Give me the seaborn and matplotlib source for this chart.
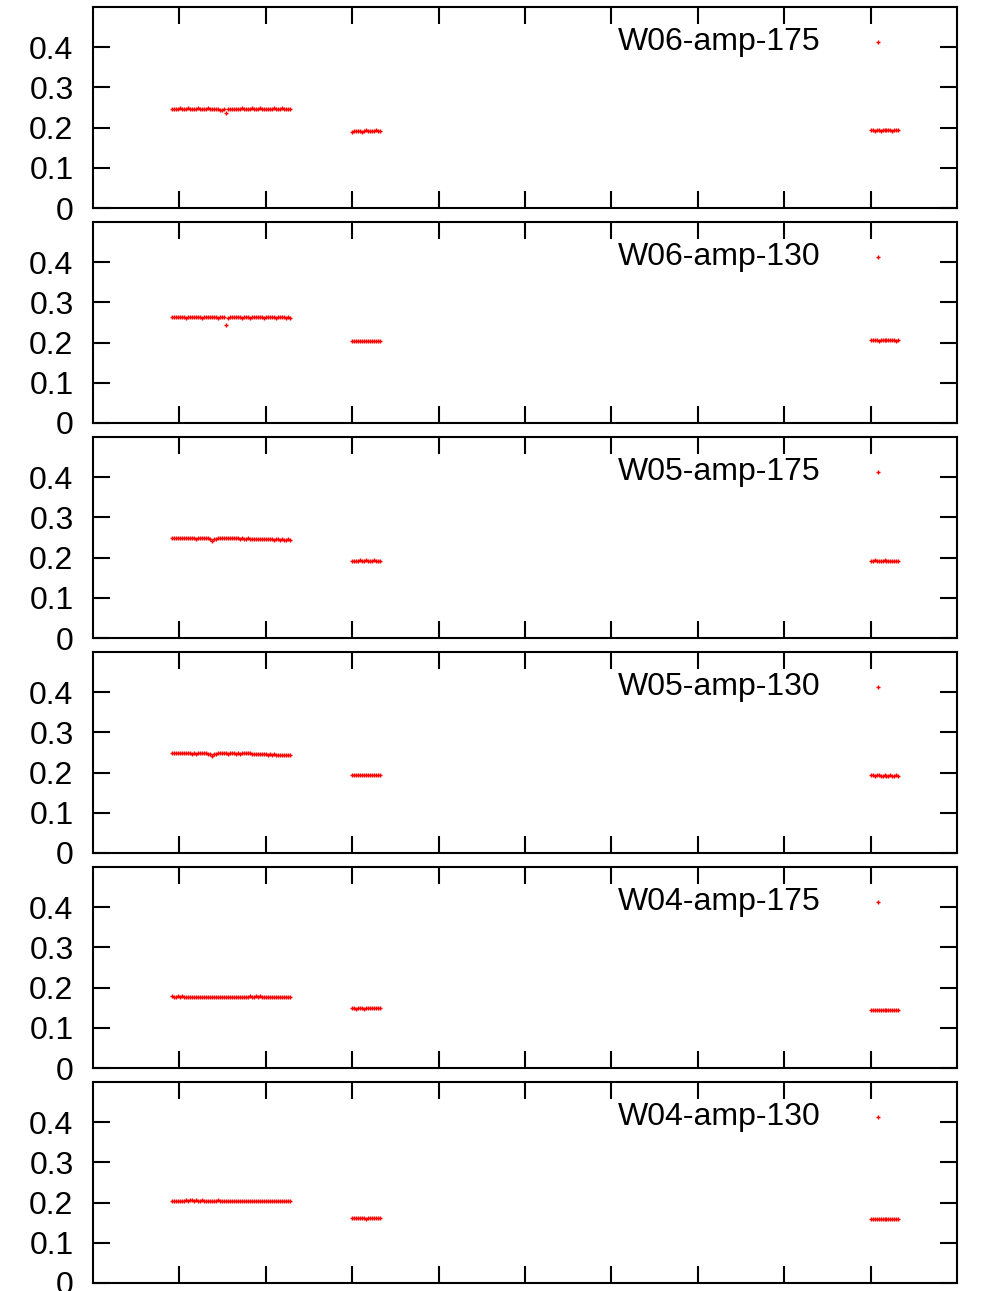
import matplotlib
matplotlib.use("Agg")
import matplotlib.pyplot as plt
import seaborn as sns

# sample positions (three runs of measurements)
x_run1 = [0.920, 0.943, 0.966, 0.989, 1.012, 1.035, 1.058, 1.081, 1.104, 1.127,
          1.150, 1.173, 1.196, 1.219, 1.242, 1.265, 1.288, 1.311, 1.334, 1.357,
          1.380, 1.403, 1.426, 1.449, 1.472, 1.495, 1.518, 1.541, 1.564, 1.587,
          1.610, 1.633, 1.656, 1.679, 1.702, 1.725, 1.748, 1.771, 1.794, 1.817,
          1.840, 1.863, 1.886, 1.909, 1.932, 1.955, 1.978, 2.001, 2.024, 2.047,
          2.070, 2.093, 2.116, 2.139, 2.162, 2.185, 2.208, 2.231, 2.254, 2.277]
x_run2 = [3.000, 3.023, 3.046, 3.069, 3.092, 3.115, 3.138, 3.161, 3.184, 3.207,
          3.230, 3.253, 3.276, 3.299, 3.322]
x_run3 = [9.000, 9.023, 9.046, 9.069, 9.092, 9.115, 9.138, 9.161, 9.184, 9.207,
          9.230, 9.253, 9.276, 9.299, 9.322]

panel_names = ["W06-amp-175", "W06-amp-130", "W05-amp-175",
               "W05-amp-130", "W04-amp-175", "W04-amp-130"]

w06_175 = ([0.247, 0.247, 0.246, 0.247, 0.248, 0.247, 0.246, 0.247, 0.248, 0.247,
            0.247, 0.246, 0.247, 0.248, 0.247, 0.246, 0.246, 0.247, 0.248, 0.247,
            0.246, 0.247, 0.246, 0.246, 0.245, 0.245, 0.246, 0.237, 0.246, 0.247,
            0.247, 0.247, 0.246, 0.247, 0.247, 0.248, 0.247, 0.246, 0.247, 0.247,
            0.248, 0.247, 0.246, 0.247, 0.248, 0.247, 0.246, 0.247, 0.246, 0.247,
            0.247, 0.248, 0.247, 0.246, 0.247, 0.248, 0.247, 0.246, 0.247, 0.246]
           + [0.190, 0.191, 0.191, 0.192, 0.191, 0.190, 0.192, 0.193, 0.191, 0.192,
              0.191, 0.192, 0.193, 0.191, 0.192]
           + [0.193, 0.193, 0.192, 0.194, 0.193, 0.192, 0.193, 0.194, 0.193, 0.194,
              0.193, 0.192, 0.193, 0.194, 0.193])
w06_130 = ([0.263, 0.263, 0.264, 0.263, 0.263, 0.264, 0.263, 0.262, 0.263, 0.264,
            0.263, 0.263, 0.264, 0.263, 0.263, 0.262, 0.263, 0.263, 0.264, 0.263,
            0.264, 0.263, 0.263, 0.262, 0.263, 0.264, 0.263, 0.243, 0.262, 0.263,
            0.264, 0.263, 0.263, 0.264, 0.263, 0.262, 0.263, 0.263, 0.263, 0.262,
            0.263, 0.264, 0.263, 0.263, 0.264, 0.263, 0.262, 0.263, 0.263, 0.264,
            0.263, 0.263, 0.262, 0.263, 0.263, 0.264, 0.263, 0.262, 0.263, 0.262]
           + [0.203, 0.204, 0.204, 0.205, 0.204, 0.203, 0.204, 0.205, 0.204, 0.204,
              0.205, 0.204, 0.203, 0.204, 0.204]
           + [0.206, 0.206, 0.207, 0.206, 0.205, 0.206, 0.207, 0.206, 0.206, 0.206,
              0.207, 0.206, 0.206, 0.205, 0.206])
w05_175 = ([0.249, 0.249, 0.250, 0.249, 0.248, 0.249, 0.248, 0.248, 0.249, 0.248,
            0.248, 0.248, 0.247, 0.248, 0.249, 0.248, 0.248, 0.249, 0.248, 0.247,
            0.241, 0.246, 0.247, 0.248, 0.248, 0.248, 0.249, 0.248, 0.248, 0.249,
            0.248, 0.249, 0.248, 0.248, 0.247, 0.248, 0.247, 0.247, 0.248, 0.247,
            0.247, 0.247, 0.247, 0.246, 0.247, 0.246, 0.246, 0.247, 0.246, 0.246,
            0.246, 0.245, 0.246, 0.246, 0.245, 0.246, 0.245, 0.245, 0.246, 0.245]
           + [0.191, 0.192, 0.192, 0.192, 0.193, 0.192, 0.192, 0.193, 0.192, 0.192,
              0.192, 0.193, 0.192, 0.192, 0.192]
           + [0.192, 0.192, 0.193, 0.192, 0.191, 0.192, 0.192, 0.193, 0.192, 0.192,
              0.192, 0.191, 0.192, 0.192, 0.192])
w05_130 = ([0.250, 0.249, 0.249, 0.248, 0.249, 0.248, 0.248, 0.248, 0.249, 0.248,
            0.247, 0.248, 0.247, 0.248, 0.248, 0.249, 0.248, 0.248, 0.247, 0.246,
            0.242, 0.246, 0.247, 0.248, 0.248, 0.249, 0.248, 0.248, 0.247, 0.248,
            0.249, 0.248, 0.247, 0.248, 0.247, 0.248, 0.250, 0.249, 0.248, 0.248,
            0.247, 0.247, 0.246, 0.247, 0.246, 0.247, 0.246, 0.246, 0.245, 0.246,
            0.245, 0.246, 0.245, 0.245, 0.244, 0.245, 0.245, 0.244, 0.245, 0.245]
           + [0.193, 0.194, 0.194, 0.193, 0.193, 0.193, 0.193, 0.193, 0.193, 0.193,
              0.193, 0.193, 0.193, 0.193, 0.193]
           + [0.193, 0.193, 0.192, 0.193, 0.193, 0.192, 0.192, 0.193, 0.192, 0.192,
              0.193, 0.192, 0.192, 0.193, 0.192])
w04_175 = ([0.178, 0.177, 0.177, 0.178, 0.177, 0.178, 0.177, 0.177, 0.177, 0.177,
            0.177, 0.177, 0.176, 0.177, 0.177, 0.177, 0.176, 0.177, 0.177, 0.176,
            0.177, 0.177, 0.176, 0.177, 0.177, 0.177, 0.176, 0.177, 0.177, 0.177,
            0.176, 0.177, 0.177, 0.176, 0.177, 0.177, 0.177, 0.176, 0.177, 0.178,
            0.177, 0.177, 0.178, 0.177, 0.178, 0.177, 0.177, 0.177, 0.177, 0.177,
            0.177, 0.177, 0.177, 0.177, 0.176, 0.177, 0.177, 0.177, 0.177, 0.177]
           + [0.149, 0.149, 0.148, 0.149, 0.149, 0.149, 0.148, 0.149, 0.149, 0.149,
              0.149, 0.149, 0.149, 0.149, 0.149]
           + [0.144, 0.144, 0.145, 0.144, 0.145, 0.144, 0.145, 0.145, 0.144, 0.145,
              0.145, 0.144, 0.145, 0.145, 0.145])
w04_130 = ([0.205, 0.205, 0.205, 0.204, 0.205, 0.205, 0.205, 0.206, 0.205, 0.206,
            0.206, 0.205, 0.206, 0.205, 0.205, 0.206, 0.205, 0.205, 0.204, 0.205,
            0.205, 0.204, 0.205, 0.206, 0.205, 0.205, 0.204, 0.205, 0.205, 0.204,
            0.205, 0.205, 0.204, 0.205, 0.205, 0.205, 0.205, 0.204, 0.205, 0.205,
            0.205, 0.204, 0.205, 0.205, 0.205, 0.204, 0.205, 0.205, 0.205, 0.205,
            0.205, 0.205, 0.205, 0.205, 0.205, 0.205, 0.205, 0.205, 0.205, 0.205]
           + [0.161, 0.161, 0.162, 0.161, 0.161, 0.161, 0.161, 0.160, 0.161, 0.161,
              0.162, 0.161, 0.161, 0.161, 0.161]
           + [0.159, 0.159, 0.159, 0.160, 0.159, 0.159, 0.160, 0.159, 0.159, 0.159,
              0.159, 0.160, 0.159, 0.158, 0.159])

panel_values = [w06_175, w06_130, w05_175, w05_130, w04_175, w04_130]
x_all = x_run1 + x_run2 + x_run3

y_ticks = [0, 0.1, 0.2, 0.3, 0.4]
y_tick_labels = ["0", "0.1", "0.2", "0.3", "0.4"]
x_ticks = [1, 2, 3, 4, 5, 6, 7, 8, 9]

sns.set_style("white")
plt.rcParams['font.family'] = ['Liberation Sans', 'DejaVu Sans']
plt.rcParams['text.color'] = 'black'

W, H = 982, 1291
fig = plt.figure(figsize=(W / 100, H / 100), dpi=100)

for i, (name, vals) in enumerate(zip(panel_names, panel_values)):
    top = 7 + 215 * i
    ax = fig.add_axes([93 / W, 1 - (top + 201) / H, 864 / W, 201 / H])
    sns.scatterplot(x=x_all, y=vals, marker="+", color="red", s=8,
                    linewidth=1.0, ax=ax, label=name)
    ax.set_xlim(0, 10)
    ax.set_ylim(0, 0.5)
    ax.set_xticks(x_ticks)
    ax.set_xticklabels([])
    ax.set_yticks(y_ticks)
    ax.set_yticklabels(y_tick_labels)
    ax.tick_params(direction="in", length=12, width=1.5, top=True, right=True,
                   bottom=True, left=True, labelsize=23, pad=14, colors="black")
    for sp in ax.spines.values():
        sp.set_visible(True)
        sp.set_color("black")
        sp.set_linewidth(1.5)
    ax.legend(loc="upper right", bbox_to_anchor=(0.9377, 0.90), markerfirst=False,
              frameon=False, fontsize=23, handlelength=1.6, handletextpad=1.0,
              borderpad=0, borderaxespad=0, scatterpoints=1, labelcolor="black")

fig.savefig("out.png", dpi=100)
